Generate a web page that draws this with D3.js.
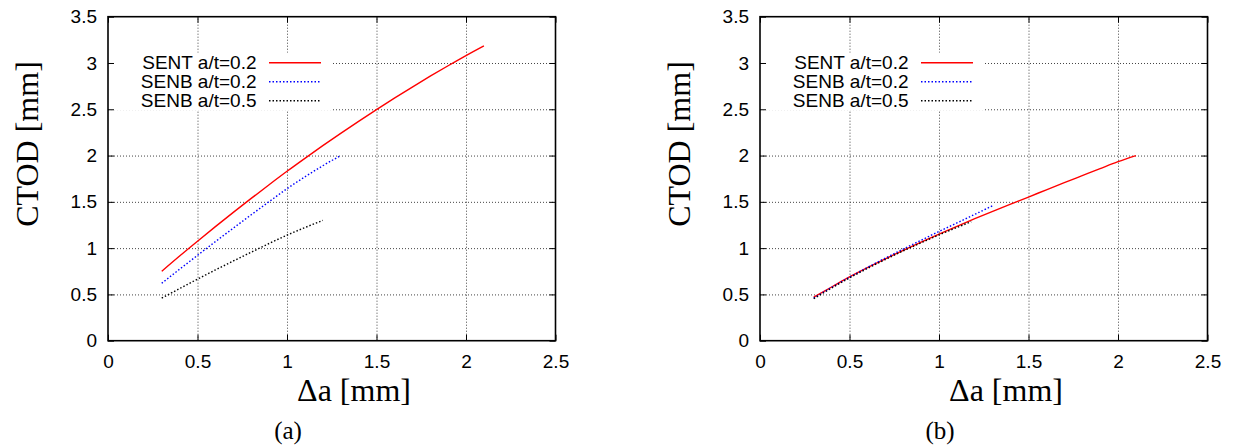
<!DOCTYPE html>
<html lang="en">
<head>
    <meta charset="UTF-8">
    <title>CTOD vs crack growth</title>
    <script src="https://d3js.org/d3.v7.min.js"></script>
    <style>
        body {
            margin: 0;
            background: #fff;
        }
        svg {
            display: block;
        }
        .tick text {
            font-family: "Liberation Sans", Arial, sans-serif;
            font-size: 19px;
            fill: #000;
        }
        .grid line {
            stroke: #444;
            stroke-width: 1;
            stroke-dasharray: 1, 2;
        }
        .legend text {
            font-family: "Liberation Sans", Arial, sans-serif;
            font-size: 19px;
        }
        .title {
            font-family: "Liberation Serif", "Times New Roman", serif;
            fill: #000;
        }
    </style>
</head>
<body>
    <div id="container"></div>

    <script>
        // tick values
        const xTicks = [0, 0.5, 1, 1.5, 2, 2.5];
        const yTicks = [0, 0.5, 1, 1.5, 2, 2.5, 3, 3.5];

        const seriesNames = ['SENT a/t=0.2', 'SENB a/t=0.2', 'SENB a/t=0.5'];

        // panel (a)
        const a_sent02_x = [0.3, 0.4, 0.5, 0.6, 0.7, 0.8, 0.9, 1.0, 1.1, 1.2, 1.3, 1.4, 1.5, 1.6, 1.7, 1.8, 1.9, 2.0, 2.1];
        const a_sent02_y = [0.75, 0.915, 1.075, 1.232, 1.386, 1.537, 1.685, 1.83, 1.97, 2.107, 2.24, 2.37, 2.497, 2.62, 2.74, 2.857, 2.97, 3.08, 3.185];
        const a_senb02_x = [0.3, 0.4, 0.5, 0.6, 0.7, 0.8, 0.9, 1.0, 1.1, 1.2, 1.3];
        const a_senb02_y = [0.62, 0.772, 0.922, 1.07, 1.216, 1.36, 1.502, 1.642, 1.77, 1.89, 2.0];
        const a_senb05_x = [0.3, 0.4, 0.5, 0.6, 0.7, 0.8, 0.9, 1.0, 1.1, 1.2];
        const a_senb05_y = [0.46, 0.563, 0.665, 0.764, 0.861, 0.956, 1.05, 1.14, 1.222, 1.30];

        // panel (b)
        const b_sent02_x = [0.3, 0.4, 0.5, 0.6, 0.7, 0.8, 0.9, 1.0, 1.1, 1.2, 1.3, 1.4, 1.5, 1.6, 1.7, 1.8, 1.9, 2.0, 2.1];
        const b_sent02_y = [0.47, 0.58, 0.69, 0.79, 0.885, 0.977, 1.066, 1.152, 1.236, 1.318, 1.398, 1.476, 1.552, 1.63, 1.707, 1.783, 1.859, 1.934, 2.0];
        const b_senb02_x = [0.3, 0.4, 0.5, 0.6, 0.7, 0.8, 0.9, 1.0, 1.1, 1.2, 1.3];
        const b_senb02_y = [0.46, 0.575, 0.686, 0.791, 0.892, 0.99, 1.085, 1.18, 1.272, 1.365, 1.458];
        const b_senb05_x = [0.3, 0.4, 0.5, 0.6, 0.7, 0.8, 0.9, 1.0, 1.1, 1.18];
        const b_senb05_y = [0.455, 0.568, 0.678, 0.78, 0.877, 0.97, 1.058, 1.143, 1.223, 1.285];

        const seriesColors = ['#ff0000', '#0000ff', '#000000'];
        const seriesDash = [null, '1.5,2', '1.5,2'];

        const svg = d3.select('#container').append('svg')
            .attr('width', 1239)
            .attr('height', 446);

        const width = 447.5;
        const height = 324;
        const top_y = 16.7;

        function zip(xs, ys) {
            return xs.map((x, i) => ({x: x, y: ys[i]}));
        }

        function drawPanel(left_x, series, caption) {
            const g = svg.append('g').attr('transform', `translate(${left_x},${top_y})`);

            const x = d3.scaleLinear().domain([0, 2.5]).range([0, width]);
            const y = d3.scaleLinear().domain([0, 3.5]).range([height, 0]);

            // dotted grid
            g.append('g').attr('class', 'grid')
                .attr('transform', `translate(0,${height})`)
                .call(d3.axisBottom(x).tickValues(xTicks.slice(1, -1)).tickSize(-height).tickFormat(''))
                .call(s => s.select('.domain').remove());
            g.append('g').attr('class', 'grid')
                .call(d3.axisLeft(y).tickValues(yTicks.slice(1, -1)).tickSize(-width).tickFormat(''))
                .call(s => s.select('.domain').remove());

            // white box behind the legend
            g.append('rect')
                .attr('x', 1).attr('y', 36)
                .attr('width', 222).attr('height', 58)
                .attr('fill', '#fff');

            // axes with inward ticks
            g.append('g')
                .attr('transform', `translate(0,${height})`)
                .call(d3.axisBottom(x).tickValues(xTicks).tickSizeInner(-6).tickSizeOuter(0).tickPadding(14).tickFormat(d => d));
            g.append('g')
                .call(d3.axisLeft(y).tickValues(yTicks).tickSizeInner(-6).tickSizeOuter(0).tickPadding(11).tickFormat(d => d));
            g.append('g')
                .call(d3.axisTop(x).tickValues(xTicks).tickSizeInner(-6).tickSizeOuter(0).tickFormat(''));
            g.append('g')
                .attr('transform', `translate(${width},0)`)
                .call(d3.axisRight(y).tickValues(yTicks).tickSizeInner(-6).tickSizeOuter(0).tickFormat(''));
            g.selectAll('.domain').remove();
            g.selectAll('.tick line').filter(function() {
                return !this.parentNode.parentNode.classList.contains('grid');
            }).attr('stroke', '#000').attr('stroke-width', 1);

            // frame
            g.append('rect')
                .attr('width', width).attr('height', height)
                .attr('fill', 'none')
                .attr('stroke', '#000')
                .attr('stroke-width', 1.6);

            // curves
            const line = d3.line().x(d => x(d.x)).y(d => y(d.y)).curve(d3.curveMonotoneX);
            series.forEach((s, i) => {
                g.append('path')
                    .datum(s)
                    .attr('d', line)
                    .attr('fill', 'none')
                    .attr('stroke', seriesColors[i])
                    .attr('stroke-width', 1.4)
                    .attr('stroke-dasharray', seriesDash[i]);
            });

            // legend
            const legend = g.append('g').attr('class', 'legend');
            seriesNames.forEach((name, i) => {
                const ly = 46 + i * 19;
                legend.append('text')
                    .attr('x', 148.5).attr('y', ly)
                    .attr('text-anchor', 'end')
                    .attr('dominant-baseline', 'central')
                    .text(name);
                legend.append('line')
                    .attr('x1', 161).attr('x2', 213)
                    .attr('y1', ly).attr('y2', ly)
                    .attr('stroke', seriesColors[i])
                    .attr('stroke-width', 1.4)
                    .attr('stroke-dasharray', seriesDash[i]);
            });

            // axis titles
            g.append('text').attr('class', 'title')
                .attr('x', 246).attr('y', 384)
                .attr('text-anchor', 'middle')
                .attr('font-size', 32)
                .text('\u0394a [mm]');
            g.append('text').attr('class', 'title')
                .attr('transform', `translate(-81,${144 - top_y}) rotate(-90)`)
                .attr('text-anchor', 'middle')
                .attr('dominant-baseline', 'central')
                .attr('font-size', 32)
                .text('CTOD [mm]');
            g.append('text').attr('class', 'title')
                .attr('x', 180).attr('y', 422)
                .attr('text-anchor', 'middle')
                .attr('font-size', 25)
                .text(caption);
        }

        drawPanel(108, [
            zip(a_sent02_x, a_sent02_y),
            zip(a_senb02_x, a_senb02_y),
            zip(a_senb05_x, a_senb05_y)
        ], '(a)');

        drawPanel(760, [
            zip(b_sent02_x, b_sent02_y),
            zip(b_senb02_x, b_senb02_y),
            zip(b_senb05_x, b_senb05_y)
        ], '(b)');
    </script>
</body>
</html>
